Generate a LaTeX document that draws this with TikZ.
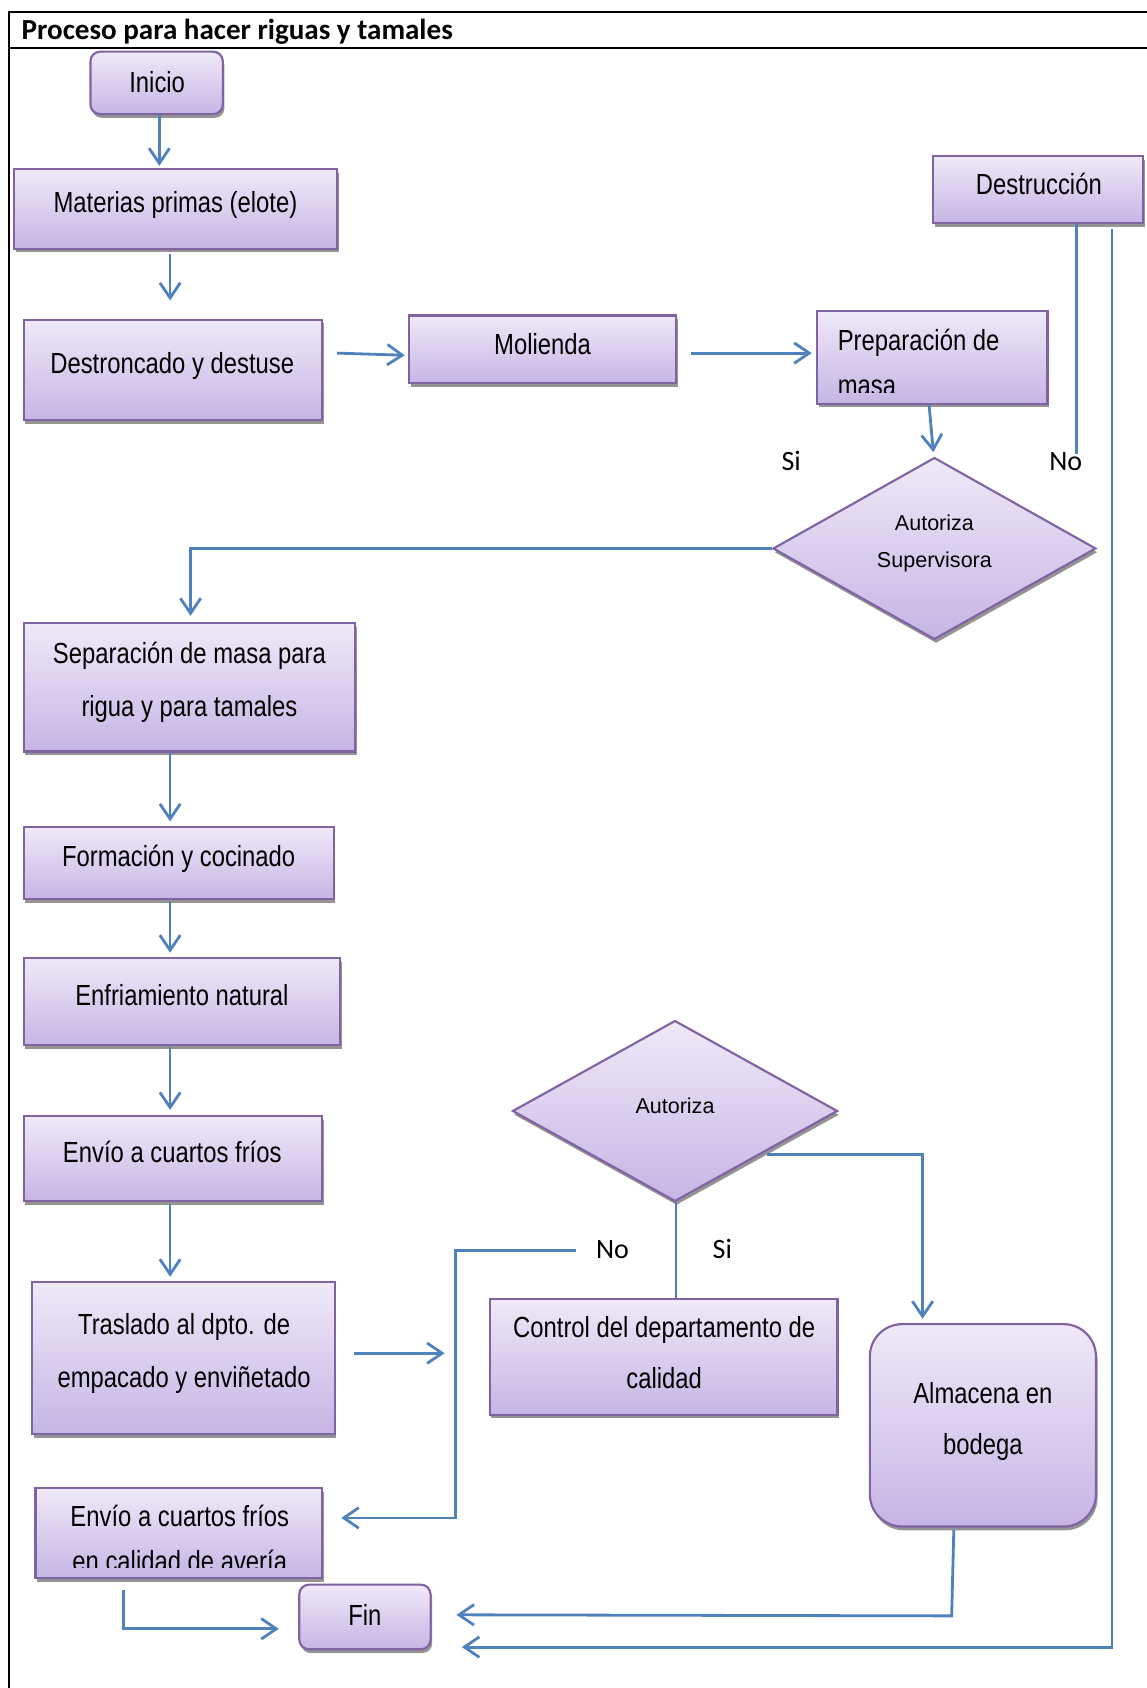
\documentclass[tikz,border=0pt]{standalone}
\usepackage{fontspec}
\usetikzlibrary{arrows.meta,shapes.geometric,shadows,calc}
\newfontfamily\boxfont[FakeStretch=0.82]{Liberation Sans}
\newfontfamily\diafont{Liberation Sans}
\newfontfamily\calfont{Carlito}
\definecolor{boxtop}{RGB}{239,233,248}
\definecolor{boxbot}{RGB}{198,181,229}
\definecolor{boxline}{RGB}{128,100,162}
\definecolor{arrowblue}{RGB}{79,129,189}
\begin{document}
\begin{tikzpicture}[x=1pt,y=-1pt,
  box/.style={draw=boxline, line width=2pt, top color=boxtop, bottom color=boxbot, inner sep=0pt,
    drop shadow={shadow xshift=1.5pt, shadow yshift=-3.5pt, fill=black!42, opacity=1}},
  rbox/.style={box, rounded corners=9pt},
  dia/.style={box, diamond, aspect=1.8},
  txt/.style={font=\boxfont\fontsize{27}{49}\selectfont, inner sep=0pt, text height=19.3pt, text depth=0pt, align=center},
  diatxt/.style={font=\diafont\fontsize{20}{34}\selectfont, inner sep=0pt, text height=14.3pt, text depth=0pt, align=center},
  lab/.style={font=\calfont\fontsize{26}{30}\selectfont, inner sep=0pt, text height=16.7pt, text depth=0pt},
  conn/.style={draw=arrowblue, line width=2.6pt},
  arr/.style={conn, -{Straight Barb[length=14pt,width=19pt,line width=2.6pt]}},
  frame/.style={draw=black, line width=1.8pt}
]
\useasboundingbox (0,0) rectangle (1065,1568);
% frame
\draw[frame] (8,1568) -- (8,11) -- (1065,11);
\draw[frame] (8,45) -- (1065,45);
\node[font=\calfont\bfseries\fontsize{27}{30}\selectfont, inner sep=0pt, text height=17.4pt, text depth=0pt, anchor=west] (title) at (20,28) {Proceso para hacer riguas y tamales};

% boxes
\node[rbox, minimum width=123pt, minimum height=58pt] (inicio) at (145.5,77) {};
\node[txt] (inicio-t) at (146,76) {Inicio};
\node[box, minimum width=300pt, minimum height=74pt] (materias) at (163,194) {};
\node[txt] (materias-t) at (163,188) {Materias primas (elote)};
\node[box, minimum width=277pt, minimum height=93pt] (destr) at (160.5,343.5) {};
\node[txt] (destr-t) at (160,337) {Destroncado y destuse};
\node[box, minimum width=248pt, minimum height=63pt] (molienda) at (504,324.5) {};
\node[txt] (molienda-t) at (504,320) {Molienda};
\node[box, minimum width=214pt, minimum height=86pt] (prep) at (866,332) {};
\begin{scope}
  \clip (prep.north west) rectangle ($(prep.south east)+(0,-11)$);
  \node[txt, font=\boxfont\fontsize{27}{42}\selectfont, align=left, anchor=west, text height=61.3pt] (prep-t) at (778,337) {Preparación de\\masa};
\end{scope}
\node[box, minimum width=195pt, minimum height=62pt] (destruc) at (964.5,176) {};
\node[txt] (destruc-t) at (965,171) {Destrucción};
\node[dia, minimum width=300pt, minimum height=169pt] (aut1) at (868,509.5) {};
\node[diatxt, text height=48.3pt] (aut1-t) at (868,503) {Autoriza\\Supervisora};
\node[box, minimum width=308pt, minimum height=119pt] (sep) at (176,638.5) {};
\node[txt, text height=68.3pt] (sep-t) at (176,631.5) {Separación de masa para\\rigua y para tamales};
\node[box, minimum width=288pt, minimum height=67pt] (form) at (166,801.5) {};
\node[txt] (form-t) at (166,795) {Formación y cocinado};
\node[box, minimum width=294pt, minimum height=81pt] (enf) at (169,930.5) {};
\node[txt] (enf-t) at (169,924) {Enfriamiento natural};
\node[box, minimum width=277pt, minimum height=79pt] (envio) at (160.5,1076.5) {};
\node[txt] (envio-t) at (160,1070) {Envío a cuartos fríos};
\node[box, minimum width=281pt, minimum height=141pt] (tras) at (170.5,1261.5) {};
\node[txt, text height=68.3pt] (tras-t) at (171,1254.5) {Traslado al dpto. de\\empacado y enviñetado};
\node[dia, minimum width=302pt, minimum height=168pt] (aut2) at (627,1032) {};
\node[diatxt] (aut2-t) at (627,1027) {Autoriza};
\node[box, minimum width=323pt, minimum height=107pt] (control) at (616.5,1260.5) {};
\node[txt, font=\boxfont\fontsize{27}{47}\selectfont, text height=66.3pt] (control-t) at (617,1256.5) {Control del departamento de\\calidad};
\node[box, rounded corners=30pt, minimum width=210pt, minimum height=188pt] (alm) at (913,1324) {};
\node[txt, font=\boxfont\fontsize{27}{47}\selectfont, text height=66.3pt] (alm-t) at (913,1317.5) {Almacena en\\bodega};
\node[box, minimum width=266pt, minimum height=84pt] (envio2) at (166,1424) {};
\begin{scope}
  \clip (envio2.north west) rectangle ($(envio2.south east)+(0,-11)$);
  \node[txt, font=\boxfont\fontsize{27}{42}\selectfont, text height=61.3pt] (envio2-t) at (167,1429) {Envío a cuartos fríos\\en calidad de avería};
\end{scope}
\node[rbox, minimum width=122pt, minimum height=60pt] (fin) at (339,1502) {};
\node[txt] (fin-t) at (339,1500) {Fin};

% labels
\node[lab] (si1) at (735,429) {Si};
\node[lab] (no1) at (990,429) {No};
\node[lab] (no2) at (569,1161) {No};
\node[lab] (si2) at (671,1161) {Si};

% free ends
\coordinate (noend) at (1000,422);
\coordinate (nostart) at (535,1161.5);
\coordinate (nocorner) at (423,1161.5);

% connectors
\draw[arr] ($(inicio.south)+(2.5,0)$) -- ($(inicio.south |- materias.north)+(2.5,-2)$);
\draw[arr] ($(materias.south)+(-5,4)$) -- ($(destr.north)+(-2.5,-17)$);
\draw[arr] ($(destr.east)+(13,-15.5)$) -- ($(molienda.west)+(-3,5.5)$);
\draw[arr] ($(molienda.east)+(13,3.5)$) -- ($(prep.west)+(-4,-4)$);
\draw[arr] ($(prep.south)+(-3,0)$) -- ($(aut1.north)+(-1,-4)$);
\draw[arr] (aut1.west) -| ($(sep.north)+(1,-6)$);
\draw[conn] ($(destruc.south)+(35.5,0)$) -- (noend);
\draw[arr] ($(destruc.south)+(68.5,5)$) |- ($(fin.east)+(28,28)$);
\draw[arr] ($(sep.south)+(-18,0)$) -- ($(form.north)+(-8,-4)$);
\draw[arr] ($(form.south)+(-8,1)$) -- ($(enf.north)+(-11,-4)$);
\draw[arr] ($(enf.south)+(-11,1)$) -- ($(envio.north)+(-2.5,-5)$);
\draw[arr] ($(envio.south)+(-2.5,1)$) -- ($(tras.north)+(-12.5,-4)$);
\draw[arr] ($(tras.east)+(17,-4.5)$) -- ($(nocorner |- tras.east)+(-10,-4.5)$);
\draw[arr] (nostart) -- (nocorner) |- ($(envio2.east)+(17,-14)$);
\draw[conn] ($(aut2.south)+(1,0)$) -- ($(aut2.south |- control.north)+(1,0)$);
\draw[arr] ($(aut2.south east)+(9,-2)$) -| ($(alm.north)+(-56,-4)$);
\draw[arr] ($(alm.south)+(-27,2)$) -- ($(alm.south)+(-29,82)$) -- ($(fin.east)+(23,-2)$);
\draw[arr] ($(envio2.south)+(-51,10)$) |- ($(fin.west)+(-18,11)$);
\end{tikzpicture}
\end{document}
